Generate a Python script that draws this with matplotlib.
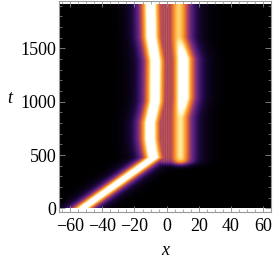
import numpy as np
import matplotlib
matplotlib.use("Agg")
import matplotlib.pyplot as plt
from matplotlib.colors import LinearSegmentedColormap
from matplotlib.ticker import MultipleLocator

# soliton 1: moves in from the left, then sits near x = -10
sol1_t = [0, 420, 470, 540, 640, 800, 1000, 1380, 1600, 1910]
sol1_x = [-52, -13, -8.5, -9.5, -10.5, -10.5, -7.5, -7.3, -9.8, -10.2]

# soliton 2: appears after the collision on the right
sol2_t = [400, 850, 1030, 1400, 1600, 1910]
sol2_x = [8.2, 8.2, 10.0, 10.0, 7.3, 7.3]
sol2_amp = [0.9, 0.9, 1.15, 1.15, 0.85, 0.85]

# striped band between the two solitons
band_left, band_right = -5.6, 5.8
band_level = 0.46
fringe_x = [-4.8, -3.3, -1.8, -0.4, 1.0, 2.5, 4.0, 5.2]
band_onset = 410

x = np.linspace(-67, 65, 330)
t = np.linspace(0, 1910, 240)
X, T = np.meshgrid(x, t)

c1 = np.interp(t, sol1_t, sol1_x)[:, None]
c2 = np.interp(t, sol2_t, sol2_x)[:, None]
a2 = np.interp(t, sol2_t, sol2_amp)[:, None]
on = 1 / (1 + np.exp(-(t - band_onset) / 15))[:, None]

s1 = 1.15 / np.cosh((X - c1) / 4.2)
s2 = on * a2 / np.cosh((X - c2) / 4.6)

edge = 1 / (1 + np.exp(-(X - band_left) / 0.3)) * 1 / (1 + np.exp((X - band_right) / 0.3))
fr = sum(np.exp(-((X - fx) / 0.3) ** 2) for fx in fringe_x)
band = on * edge * (band_level + 0.10 * fr)
field = np.clip(np.maximum(np.maximum(s1, s2), band), 0, 1)

cmap = LinearSegmentedColormap.from_list("sunset", [
    (0.0, (0, 0, 0)),
    (0.12, (0.10, 0.03, 0.22)),
    (0.25, (0.30, 0.10, 0.48)),
    (0.42, (0.56, 0.22, 0.45)),
    (0.62, (0.93, 0.44, 0.17)),
    (0.80, (1.0, 0.72, 0.25)),
    (0.92, (1.0, 0.95, 0.72)),
    (1.0, (1, 1, 1)),
])

plt.rcParams['font.family'] = ['Liberation Serif', 'DejaVu Serif']
fig = plt.figure(figsize=(2.73, 2.57), dpi=100)
ax = fig.add_axes([0.216, 0.175, 0.777, 0.821])
ax.imshow(field, cmap=cmap, vmin=0, vmax=1, origin='lower', aspect='auto',
          extent=[x[0], x[-1], t[0], t[-1]], interpolation='bilinear')
ax.set_xlim(-67, 65)
ax.set_ylim(-35, 1945)

ax.xaxis.set_major_locator(MultipleLocator(20))
ax.xaxis.set_minor_locator(MultipleLocator(5))
ax.yaxis.set_major_locator(MultipleLocator(500))
ax.yaxis.set_minor_locator(MultipleLocator(100))
ax.tick_params(which='both', direction='in', top=True, right=True,
               color='0.55', labelsize=13)
ax.tick_params(axis='x', pad=4)
ax.tick_params(axis='y', pad=2)
ax.tick_params(which='major', length=4, width=0.6)
ax.tick_params(which='minor', length=2, width=0.5)
for s in ax.spines.values():
    s.set_color('0.6')
    s.set_linewidth(0.8)

ax.set_xlabel("x", fontsize=13, style='italic', labelpad=5)
ax.set_ylabel("t", fontsize=13, style='italic', rotation=0, labelpad=8)

fig.savefig("out.png", dpi=100)
